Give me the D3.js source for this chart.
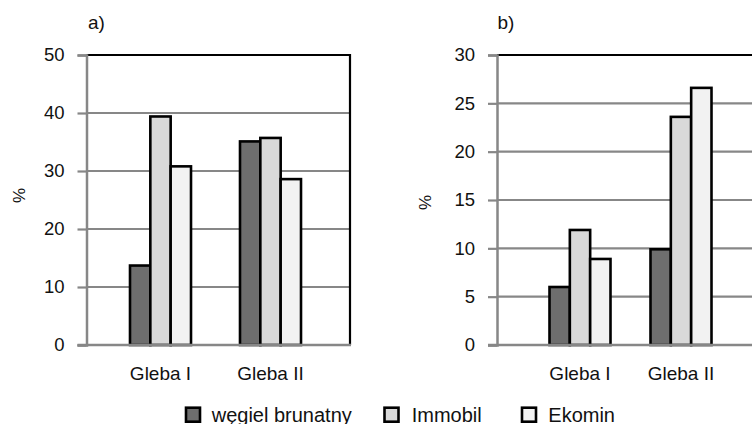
<!DOCTYPE html>
<html>
<head>
<meta charset="utf-8">
<script src="https://cdn.jsdelivr.net/npm/d3@7/dist/d3.min.js"></script>
<style>
  html, body { margin: 0; padding: 0; background: #fff; }
  svg { display: block; font-family: "Liberation Sans", Arial, sans-serif; }
</style>
</head>
<body>
<svg id="chart" width="752" height="424"></svg>
<script>
// ---- data ----
const categories = ["Gleba I", "Gleba II"];
const seriesNames = ["węgiel brunatny", "Immobil", "Ekomin"];
const seriesColors = ["#6e6e6e", "#d9d9d9", "#f2f2f2"];

const aWegiel  = [13.7, 35.1];
const aImmobil = [39.4, 35.7];
const aEkomin  = [30.8, 28.6];

const bWegiel  = [6.0, 9.9];
const bImmobil = [11.9, 23.6];
const bEkomin  = [8.9, 26.6];

const ticksA = [0, 10, 20, 30, 40, 50];
const ticksB = [0, 5, 10, 15, 20, 25, 30];

const svg = d3.select("#chart");
const GRID = "#878787";

function panel(cfg) {
  const g = svg.append("g");
  const y = d3.scaleLinear().domain(cfg.domain).range([345, 55]);
  const step = (cfg.catRange[1] - cfg.catRange[0]) / categories.length;
  const pin = 1 - 61 / step;
  const x0 = d3.scaleBand().domain(categories).range(cfg.catRange)
    .paddingInner(pin).paddingOuter(pin / 2);
  const x1 = d3.scaleBand().domain(seriesNames).range([0, x0.bandwidth()]);

  // gridlines
  g.append("g").selectAll("line").data(cfg.ticks.filter(t => t !== 0 && t !== cfg.domain[1]))
    .join("line")
    .attr("x1", cfg.left).attr("x2", cfg.right)
    .attr("y1", d => y(d)).attr("y2", d => y(d))
    .attr("stroke", GRID).attr("stroke-width", 2.2);

  // top border black
  g.append("line").attr("x1", cfg.left).attr("x2", cfg.right)
    .attr("y1", y(cfg.domain[1])).attr("y2", y(cfg.domain[1]))
    .attr("stroke", "#000").attr("stroke-width", 2.2);
  if (cfg.rightBorder) {
    g.append("line").attr("x1", cfg.right).attr("x2", cfg.right)
      .attr("y1", y(cfg.domain[1]) - 1).attr("y2", y(0))
      .attr("stroke", "#000").attr("stroke-width", 2.2);
  }

  // bars
  const rows = categories.map((c, i) => ({ cat: c, vals: cfg.series.map((s, k) => ({ name: seriesNames[k], v: s[i], k })) }));
  g.append("g").selectAll("g").data(rows).join("g")
    .attr("transform", d => `translate(${x0(d.cat)},0)`)
    .selectAll("rect").data(d => d.vals).join("rect")
    .attr("x", d => x1(d.name))
    .attr("width", x1.bandwidth())
    .attr("y", d => y(d.v))
    .attr("height", d => y(0) - y(d.v))
    .attr("fill", d => seriesColors[d.k])
    .attr("stroke", "#000").attr("stroke-width", 2.6);

  // y axis
  const yAxis = d3.axisLeft(y).tickValues(cfg.ticks).tickSize(9).tickPadding(13).tickFormat(d3.format("d"));
  const ax = g.append("g").attr("transform", `translate(${cfg.left},0)`).call(yAxis);
  ax.select(".domain").attr("stroke", GRID).attr("stroke-width", 2.5);
  ax.selectAll(".tick line").attr("stroke", GRID).attr("stroke-width", 2.2);
  ax.selectAll(".tick text").attr("font-size", 18.5).attr("fill", "#111")
    .attr("font-family", "Liberation Sans, Arial, sans-serif");

  // bottom axis line
  g.append("line").attr("x1", cfg.left - 9).attr("x2", cfg.right + (cfg.rightBorder ? 1 : 0))
    .attr("y1", y(0)).attr("y2", y(0))
    .attr("stroke", GRID).attr("stroke-width", 2.5);

  // category labels
  g.append("g").selectAll("text").data(categories).join("text")
    .attr("x", d => x0(d) + x0.bandwidth() / 2)
    .attr("y", 380)
    .attr("text-anchor", "middle")
    .attr("font-size", 19).attr("fill", "#111")
    .text(d => d);

  // % label
  g.append("text")
    .attr("transform", `translate(${cfg.pctX},${cfg.pctY}) rotate(-90)`)
    .attr("text-anchor", "middle")
    .attr("font-size", 17).attr("fill", "#111")
    .text("%");

  // panel title
  g.append("text").attr("x", cfg.titleX).attr("y", 29)
    .attr("font-size", 19).attr("fill", "#111").text(cfg.title);
}

panel({
  domain: [0, 50], ticks: ticksA, left: 86.5, right: 350,
  catRange: [105.5, 325.5], rightBorder: true,
  series: [aWegiel, aImmobil, aEkomin],
  pctX: 25, pctY: 195.5, title: "a)", titleX: 88
});

panel({
  domain: [0, 30], ticks: ticksB, left: 497, right: 753,
  catRange: [529.5, 731.5], rightBorder: false,
  series: [bWegiel, bImmobil, bEkomin],
  pctX: 431, pctY: 202.5, title: "b)", titleX: 497.5
});

// legend
const legendBoxX = [186, 384.5, 522];
const legendTextX = [211.7, 411.7, 548.3];
const lg = svg.append("g");
seriesNames.forEach((n, i) => {
  lg.append("rect").attr("x", legendBoxX[i]).attr("y", 407.7)
    .attr("width", 14).attr("height", 14)
    .attr("fill", seriesColors[i]).attr("stroke", "#000").attr("stroke-width", 2.6);
  lg.append("text").attr("x", legendTextX[i]).attr("y", 421.5)
    .attr("font-size", 20).attr("fill", "#111").text(n);
});
</script>
</body>
</html>
